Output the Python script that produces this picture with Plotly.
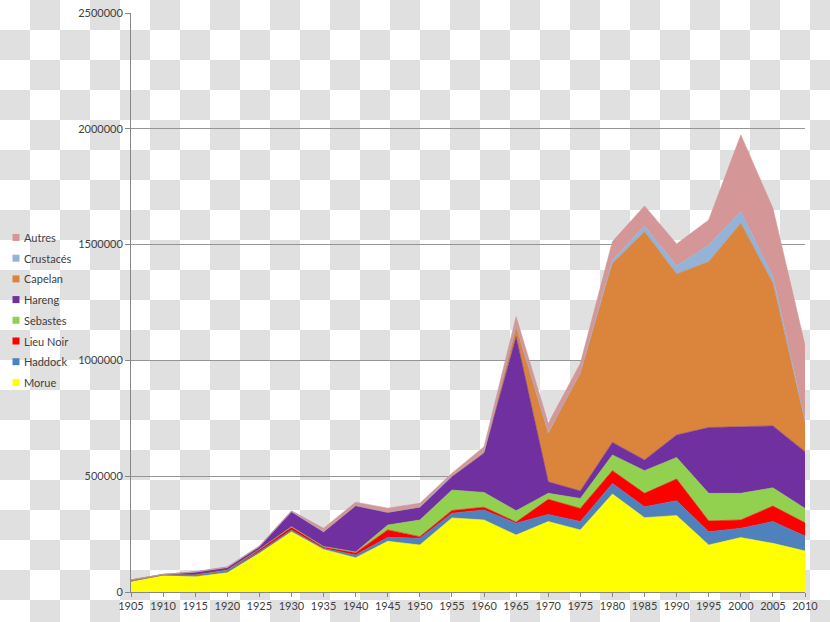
import base64
import plotly.graph_objects as go

years = list(range(1905, 2011, 5))

morue     = [45000, 72000, 66000, 83000, 167000, 260000, 184000, 148000, 219000, 203000, 320000, 311000, 246000, 304000, 268000, 423000, 321000, 330000, 203000, 235000, 210000, 177000]
haddock   = [2000, 1000, 5000, 8000, 8000, 8000, 5000, 12000, 17000, 29000, 20000, 43000, 51000, 31000, 36000, 46000, 47000, 64000, 57000, 40000, 94000, 65000]
lieu_noir = [1000, 1000, 2000, 3000, 8000, 12000, 5000, 10000, 32000, 7000, 12000, 12000, 5000, 65000, 57000, 55000, 58000, 94000, 47000, 36000, 67000, 57000]
sebastes  = [0, 0, 0, 0, 1000, 2000, 2000, 3000, 21000, 72000, 88000, 64000, 49000, 26000, 43000, 68000, 98000, 93000, 119000, 115000, 79000, 62000]
hareng    = [4000, 2000, 13000, 12000, 12000, 65000, 64000, 200000, 55000, 55000, 58000, 169000, 751000, 50000, 32000, 54000, 46000, 97000, 284000, 288000, 267000, 245000]
capelan   = [0, 0, 0, 0, 0, 0, 0, 0, 0, 0, 3000, 5000, 44000, 209000, 508000, 773000, 986000, 695000, 716000, 878000, 616000, 129000]
crustaces = [0, 0, 0, 0, 0, 0, 0, 0, 0, 2000, 2000, 3000, 3000, 3000, 3000, 14000, 24000, 35000, 72000, 51000, 29000, 5000]
autres    = [0, 0, 2000, 3000, 3000, 4000, 15000, 15000, 18000, 15000, 10000, 20000, 40000, 40000, 40000, 80000, 87000, 95000, 108000, 330000, 295000, 325000]

series_names = ["Morue", "Haddock", "Lieu Noir", "Sebastes", "Hareng", "Capelan", "Crustacés", "Autres"]
series_values = [morue, haddock, lieu_noir, sebastes, hareng, capelan, crustaces, autres]
series_colors = ["#FFFF00", "#4F81BD", "#FF0000", "#92D050", "#7030A0", "#DA843C", "#95B3D7", "#D49697"]

y_ticks = [0, 500000, 1000000, 1500000, 2000000, 2500000]

W, H = 830, 622
L, R, T, B = 131, 25, 13, 30
PW, PH = W - L - R, H - T - B

def px(xp):
    return (xp - L) / PW

def py(yp):
    return (H - B - yp) / PH

fig = go.Figure()
for name, vals, col in zip(series_names, series_values, series_colors):
    fig.add_trace(go.Scatter(
        x=years, y=vals, name=name, mode="lines", stackgroup="one",
        line=dict(width=0.6, color=col), fillcolor=col, showlegend=False,
    ))

# checkerboard background
svg = ("<svg xmlns='http://www.w3.org/2000/svg' width='830' height='622'>"
       "<defs><pattern id='p' width='60' height='60' patternUnits='userSpaceOnUse'>"
       "<rect width='60' height='60' fill='#ffffff'/>"
       "<rect x='30' y='0' width='30' height='30' fill='#e0e0e0'/>"
       "<rect x='0' y='30' width='30' height='30' fill='#e0e0e0'/>"
       "</pattern></defs><rect width='830' height='622' fill='url(#p)'/></svg>")
src = "data:image/svg+xml;base64," + base64.b64encode(svg.encode()).decode()

shapes = []
annotations = []
# manual legend (top = Autres)
leg_y0 = 237.5
for i, (name, col) in enumerate(zip(series_names[::-1], series_colors[::-1])):
    cy = leg_y0 + i * 20.7
    shapes.append(dict(type="rect", xref="paper", yref="paper",
                       x0=px(12.5), x1=px(19.5), y0=py(cy + 3.5), y1=py(cy - 3.5),
                       fillcolor=col, line=dict(width=0)))
    annotations.append(dict(text=name, xref="paper", yref="paper", x=px(21.5), y=py(cy),
                            xanchor="left", yanchor="middle", showarrow=False,
                            font=dict(family="Lato", size=11, color="#404040")))

fig.update_layout(
    width=W, height=H,
    margin=dict(l=L, r=R, t=T, b=B, autoexpand=False),
    paper_bgcolor="rgba(0,0,0,0)", plot_bgcolor="rgba(0,0,0,0)",
    images=[dict(source=src, xref="paper", yref="paper",
                 x=-L / PW, y=1 + T / PH, sizex=W / PW, sizey=H / PH,
                 xanchor="left", yanchor="top", sizing="stretch", layer="below")],
    shapes=shapes, annotations=annotations,
    showlegend=False,
    font=dict(family="Lato", size=11, color="#404040"),
    xaxis=dict(range=[1905, 2010], tickvals=years, ticktext=[str(y) for y in years],
               automargin=False,
               showgrid=False, zeroline=False, showline=True, linecolor="#868686", linewidth=1,
               ticks="outside", ticklen=4, tickcolor="#868686",
               tickfont=dict(family="Lato", size=11, color="#404040")),
    yaxis=dict(range=[0, 2500000], tickvals=y_ticks, ticktext=[str(v) for v in y_ticks],
               automargin=False,
               showgrid=True, gridcolor="#959595", gridwidth=1, zeroline=False,
               showline=True, linecolor="#868686", linewidth=1,
               ticks="outside", ticklen=5, tickcolor="#868686",
               tickfont=dict(family="Lato", size=11, color="#404040")),
)

fig.write_html("out.html")
